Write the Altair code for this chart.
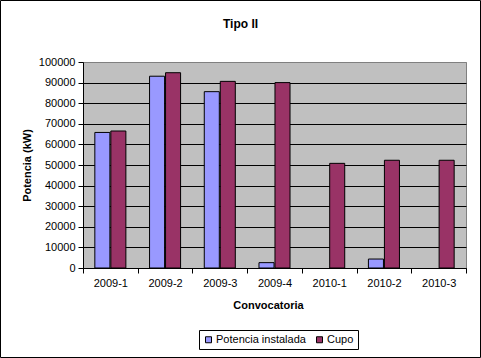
import altair as alt
import pandas as pd

categorias = ["2009-1", "2009-2", "2009-3", "2009-4", "2010-1", "2010-2", "2010-3"]
potencia_instalada = [65800, 93100, 85600, 2600, 0, 4350, 0]
cupo = [66500, 94800, 90600, 90000, 50800, 52300, 52300]
series = ["Potencia instalada", "Cupo"]
colores = ["#9999FF", "#993366"]

rows = []
for c, p, q in zip(categorias, potencia_instalada, cupo):
    rows.append({"Convocatoria": c, "Serie": series[0], "Valor": p})
    rows.append({"Convocatoria": c, "Serie": series[1], "Valor": q})
df = pd.DataFrame(rows)

FONT = "Liberation Sans"
W, H = 383, 206
PL, PT, PR, PB = 83, 62, 15, 90

bars = alt.Chart(df).transform_filter(alt.datum.Valor > 0).mark_bar(
    stroke="black", strokeWidth=1
).encode(
    x=alt.X("Convocatoria:N", sort=categorias,
            scale=alt.Scale(domain=categorias, paddingInner=0, paddingOuter=0),
            axis=alt.Axis(title="Convocatoria", labelAngle=0, tickBand="extent",
                          domainColor="black", tickColor="black", tickSize=5,
                          labelPadding=4, titlePadding=11, labelFontSize=11,
                          titleFontSize=11, titleFontWeight="bold", titleX=185,
                          labelColor="black", titleColor="black", grid=False)),
    xOffset=alt.XOffset("Serie:N", sort=series,
                        scale=alt.Scale(domain=series, paddingInner=0.06, paddingOuter=0.74)),
    y=alt.Y("Valor:Q",
            scale=alt.Scale(domain=[0, 100000], nice=False),
            axis=alt.Axis(title="Potencia (kW)", values=list(range(0, 100001, 10000)),
                          format="d", domainColor="black", tickColor="black", tickSize=5,
                          labelPadding=3, titlePadding=6, labelFontSize=11,
                          titleFontSize=11, titleFontWeight="bold",
                          labelColor="black", titleColor="black",
                          grid=True,
                          gridColor=alt.condition(alt.datum.value >= 100000,
                                                  alt.value("#808080"), alt.value("black")),
                          gridOpacity=1)),
    color=alt.Color("Serie:N", sort=series,
                    scale=alt.Scale(domain=series, range=colores),
                    legend=alt.Legend(title=None, orient="none", direction="horizontal",
                                      legendX=116, legendY=268,
                                      strokeColor="black", padding=4,
                                      symbolType="square", symbolSize=36,
                                      symbolStrokeColor="black", symbolStrokeWidth=1,
                                      labelFontSize=11, labelColor="black",
                                      columnPadding=8, symbolOffset=0, labelOffset=2)),
)

border = alt.Chart(pd.DataFrame({"a": [0]})).mark_rect(
    fill=None, stroke="black", strokeWidth=1, clip=False
).encode(
    x=alt.value(-PL + 0.5), x2=alt.value(W + PR - 0.5),
    y=alt.value(-PT + 0.5), y2=alt.value(H + PB - 0.5),
)

chart = alt.layer(bars, border).properties(
    width=W, height=H,
    title=alt.TitleParams("Tipo II", fontSize=12, fontWeight="bold", font=FONT,
                          color="black", anchor="middle", frame="group", dx=-34, offset=-31),
    autosize=alt.AutoSizeParams(type="none"),
    padding={"left": PL, "top": PT, "right": PR, "bottom": PB},
).configure(
    font=FONT, background="white"
).configure_view(
    fill="#C0C0C0", stroke="#808080", strokeWidth=1
).configure_axis(
    labelFont=FONT, titleFont=FONT
).configure_legend(
    labelFont=FONT
)

chart.save("out.html", embed_options={"renderer": "svg", "actions": False})
